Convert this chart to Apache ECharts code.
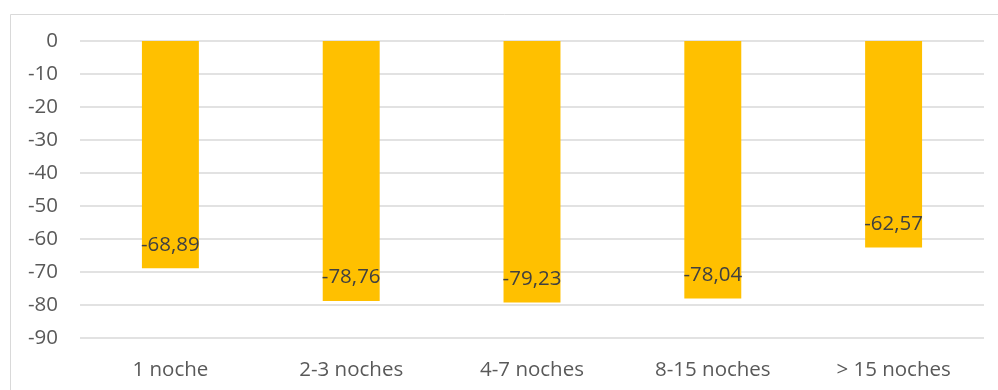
<!DOCTYPE html>
<html>
<head>
<meta charset="utf-8">
<script src="https://cdn.jsdelivr.net/npm/echarts@6/dist/echarts.min.js"></script>
<style>html,body{margin:0;padding:0;background:#fff;}#c{width:998px;height:390px;}</style>
</head>
<body>
<div id="c"></div>
<script>
const categories = ['1 noche', '2-3 noches', '4-7 noches', '8-15 noches', '> 15 noches'];
const values = [-68.89, -78.76, -79.23, -78.04, -62.57];
const yTicks = { min: -90, max: 0, interval: 10 };

const chart = echarts.init(document.getElementById('c'), null, { renderer: 'canvas' });
const font = '"Open Sans", "Noto Sans", sans-serif';
chart.setOption({
  animation: false,
  backgroundColor: '#fff',
  graphic: [{
    type: 'rect', left: 8, top: 12, silent: true,
    shape: { width: 1100, height: 500 },
    style: { fill: 'none', stroke: '#d9d9d9', lineWidth: 1 }
  }],
  grid: { left: 80, right: 14, top: 41, bottom: 52, containLabel: false },
  xAxis: {
    type: 'category', data: categories, position: 'bottom',
    axisLine: { show: false }, axisTick: { show: false },
    axisLabel: { color: '#595959', fontSize: 20.5, fontFamily: font, margin: 22 }
  },
  yAxis: {
    type: 'value', min: yTicks.min, max: yTicks.max, interval: yTicks.interval,
    axisLine: { show: false }, axisTick: { show: false },
    splitLine: { lineStyle: { color: '#d9d9d9', width: 1.5 } },
    axisLabel: { color: '#595959', fontSize: 20.5, fontFamily: font, margin: 22 }
  },
  series: [{
    type: 'bar', data: values, barWidth: '31.5%',
    itemStyle: { color: '#FFC000' },
    label: {
      show: true, position: 'insideBottom', distance: 13,
      color: '#404040', fontSize: 20.5, fontFamily: font,
      formatter: p => p.value.toFixed(2).replace('.', ',')
    }
  }]
});
</script>
</body>
</html>
